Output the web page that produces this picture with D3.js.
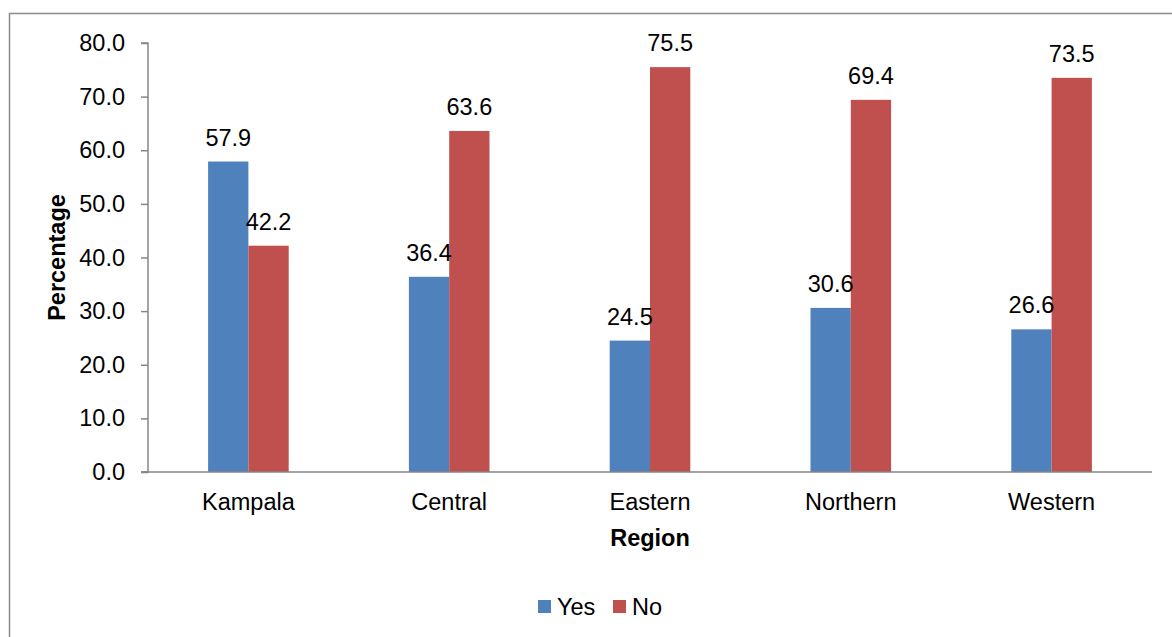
<!DOCTYPE html>
<head>
<meta charset="utf-8">
<title>Percentage by region</title>
<script src="https://cdn.jsdelivr.net/npm/d3@7"></script>
<style>
	body { margin: 0; background: #fff; }
	text { font-family: "Liberation Sans", Arial, sans-serif; fill: #000; }
</style>
</head>
<body>
<div id="chart"></div>
<script>
	var regions = ["Kampala", "Central", "Eastern", "Northern", "Western"];
	var seriesNames = ["Yes", "No"];
	var yesValues = [57.9, 36.4, 24.5, 30.6, 26.6];
	var noValues = [42.2, 63.6, 75.5, 69.4, 73.5];
	var yTicks = [0, 10, 20, 30, 40, 50, 60, 70, 80];

	var width = 1172, height = 637;
	var colors = {Yes: "#4f81bd", No: "#c0504d"};
	var fs = 23.5;

	var svg = d3.select("#chart").append("svg")
		.attr("width", width)
		.attr("height", height);

	// outer frame (clipped on right / bottom like the original)
	svg.append("rect")
		.attr("x", 9.5).attr("y", 13.5)
		.attr("width", 1200).attr("height", 700)
		.attr("fill", "none")
		.attr("stroke", "#8c8c8c")
		.attr("stroke-width", 1.5);

	// plot area (window.top is reserved, so prefix the names)
	var pLeft = 148, pRight = 1152, pTop = 43, pBottom = 472;

	var x = d3.scaleBand().domain(regions).range([pLeft, pRight]);
	var x1 = d3.scaleBand().domain(seriesNames)
		.range([x.bandwidth() / 2 - 40.3, x.bandwidth() / 2 + 40.3]);
	var y = d3.scaleLinear().domain([0, 80]).range([pBottom, pTop]);

	var rows = regions.map(function(r, i) {
		return {region: r, Yes: yesValues[i], No: noValues[i]};
	});

	var groups = svg.append("g").selectAll("g")
		.data(rows).enter().append("g")
		.attr("transform", function(d) { return "translate(" + x(d.region) + ",0)"; });

	groups.selectAll("rect")
		.data(function(d) { return seriesNames.map(function(s) { return {key: s, value: d[s]}; }); })
		.enter().append("rect")
		.attr("x", function(d) { return x1(d.key); })
		.attr("width", x1.bandwidth())
		.attr("y", function(d) { return y(d.value); })
		.attr("height", function(d) { return pBottom - y(d.value); })
		.attr("fill", function(d) { return colors[d.key]; });

	groups.selectAll("text")
		.data(function(d) { return seriesNames.map(function(s) { return {key: s, value: d[s]}; }); })
		.enter().append("text")
		.attr("x", function(d) { return x1(d.key) + x1.bandwidth() / 2; })
		.attr("y", function(d) { return y(d.value) - 16; })
		.attr("text-anchor", "middle")
		.attr("font-size", fs)
		.text(function(d) { return d.value.toFixed(1); });

	// y axis
	var yAxis = svg.append("g")
		.attr("transform", "translate(" + pLeft + ",0)")
		.call(d3.axisLeft(y).tickValues(yTicks).tickSize(7).tickPadding(16)
			.tickFormat(function(d) { return d.toFixed(1); }));
	yAxis.selectAll("line, path").attr("stroke", "#868686").attr("stroke-width", 1.5);
	yAxis.select(".domain").attr("d", "M-7," + pTop + "H0V" + pBottom + "H-7");
	yAxis.selectAll("text").attr("font-size", fs).attr("font-family", "Liberation Sans, Arial, sans-serif");

	// x axis
	var xAxis = svg.append("g")
		.attr("transform", "translate(0," + pBottom + ")")
		.call(d3.axisBottom(x).tickSize(0).tickPadding(21));
	xAxis.select(".domain").attr("d", "M" + (pLeft - 7) + ",0H" + pRight).attr("stroke", "#868686").attr("stroke-width", 1.5);
	xAxis.selectAll("text").attr("font-size", fs).attr("font-family", "Liberation Sans, Arial, sans-serif");

	svg.append("text")
		.attr("transform", "translate(65," + ((pTop + pBottom) / 2) + ") rotate(-90)")
		.attr("text-anchor", "middle")
		.attr("font-size", fs)
		.attr("font-weight", "bold")
		.text("Percentage");

	svg.append("text")
		.attr("x", (pLeft + pRight) / 2)
		.attr("y", 546)
		.attr("text-anchor", "middle")
		.attr("font-size", fs)
		.attr("font-weight", "bold")
		.text("Region");

	// legend
	var legendX = [538, 613];
	var legend = svg.append("g").selectAll("g")
		.data(seriesNames).enter().append("g")
		.attr("transform", function(d, i) { return "translate(" + legendX[i] + ",600)"; });
	legend.append("rect")
		.attr("width", 13).attr("height", 13)
		.attr("fill", function(d) { return colors[d]; });
	legend.append("text")
		.attr("x", 19).attr("y", 15)
		.attr("font-size", fs)
		.text(function(d) { return d; });
</script>
</body>
